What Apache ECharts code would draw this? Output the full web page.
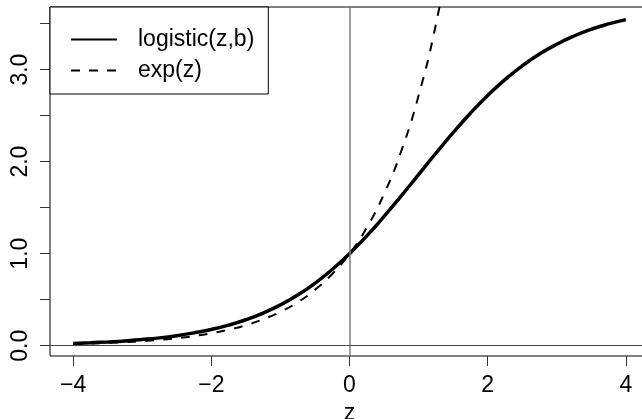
<!DOCTYPE html>
<html>
<head>
<meta charset="utf-8">
<script src="https://cdn.jsdelivr.net/npm/echarts@6/dist/echarts.min.js"></script>
<style>html,body{margin:0;padding:0;background:#fff;}#c{width:642px;height:419px;}</style>
</head>
<body>
<div id="c"></div>
<script>
// z grid
var zValues = [-4, -3.75, -3.5, -3.25, -3, -2.75, -2.5, -2.25, -2, -1.75, -1.5, -1.25, -1, -0.75, -0.5, -0.25,
  0, 0.25, 0.5, 0.75, 1, 1.25, 1.5, 1.75, 2, 2.25, 2.5, 2.75, 3, 3.25, 3.5, 3.75, 4];
// logistic(z,b) curve values
var logisticValues = [0.025, 0.032, 0.041, 0.052, 0.067, 0.085, 0.109, 0.139, 0.176, 0.223, 0.282, 0.355, 0.443,
  0.550, 0.678, 0.828, 1.000, 1.193, 1.404, 1.628, 1.859, 2.091, 2.315, 2.526, 2.719, 2.891, 3.041, 3.169,
  3.276, 3.365, 3.438, 3.496, 3.543];
// exp(z) curve values (leaves the top of the plot after z ~ 1.3)
var expValues = [0.018, 0.024, 0.030, 0.039, 0.050, 0.064, 0.082, 0.105, 0.135, 0.174, 0.223, 0.287, 0.368,
  0.472, 0.607, 0.779, 1.000, 1.284, 1.649, 2.117, 2.718, 3.490, 4.482];
var xTicks = [-4, -2, 0, 2, 4];
var yTicks = [0, 0.5, 1, 1.5, 2, 2.5, 3, 3.5];
var yLabels = [0, 1, 2, 3];
var seriesNames = ['logistic(z,b)', 'exp(z)'];

function pairs(xs, ys) {
  var out = [];
  for (var i = 0; i < ys.length; i++) out.push([xs[i], ys[i]]);
  return out;
}

var FONT = 'Liberation Sans, Arial, Helvetica, sans-serif';
var chart = echarts.init(document.getElementById('c'), null, {renderer: 'canvas'});
chart.setOption({
  animation: false,
  backgroundColor: '#fff',
  grid: {
    left: 50, top: 7, right: -7, bottom: 63,
    outerBoundsMode: 'none',
    containLabel: false,
    show: true, borderColor: '#000', borderWidth: 1, backgroundColor: 'transparent'
  },
  legend: {
    orient: 'vertical',
    left: 50, top: 7,
    data: seriesNames,
    backgroundColor: '#fff',
    borderColor: '#000',
    borderWidth: 1,
    borderRadius: 0,
    padding: [21, 14, 12, 20],
    itemGap: 8,
    itemWidth: 46,
    itemHeight: 14,
    selectedMode: false,
    itemStyle: {color: 'transparent', borderWidth: 0, opacity: 0},
    textStyle: {fontFamily: FONT, fontSize: 23, color: '#000', padding: [0, 0, 0, 16]}
  },
  xAxis: {
    type: 'value',
    min: -4.335, max: 4.335,
    name: 'z',
    nameLocation: 'middle',
    nameGap: 43,
    nameTextStyle: {fontFamily: FONT, fontSize: 23, color: '#000'},
    axisLine: {show: false, onZero: false},
    splitLine: {show: false},
    axisTick: {show: true, inside: false, length: 10, customValues: xTicks, lineStyle: {color: '#333', width: 1}},
    axisLabel: {
      customValues: xTicks,
      margin: 18,
      fontFamily: FONT, fontSize: 23, color: '#000',
      formatter: function (v) { return v < 0 ? '\u2212' + Math.abs(v) : String(v); }
    }
  },
  yAxis: {
    type: 'value',
    min: -0.112, max: 3.68,
    axisLine: {show: false, onZero: false},
    splitLine: {show: false},
    axisTick: {show: true, inside: false, length: 10, customValues: yTicks, lineStyle: {color: '#333', width: 1}},
    axisLabel: {
      customValues: yLabels,
      rotate: 90,
      margin: 18,
      fontFamily: FONT, fontSize: 23, color: '#000',
      formatter: function (v) { return Number(v).toFixed(1); }
    }
  },
  series: [
    {
      name: seriesNames[0],
      type: 'line',
      data: pairs(zValues, logisticValues),
      smooth: true,
      showSymbol: false,
      symbol: 'none',
      clip: true,
      color: '#000',
      lineStyle: {color: '#000', width: 3.5, type: 'solid'},
      z: 3,
      markLine: {
        silent: true,
        symbol: ['none', 'none'],
        label: {show: false},
        animation: false,
        data: [
          {xAxis: 0, lineStyle: {color: '#808080', width: 1.5, type: 'solid'}},
          {yAxis: 0, lineStyle: {color: '#444', width: 1, type: 'solid'}}
        ]
      }
    },
    {
      name: seriesNames[1],
      type: 'line',
      data: pairs(zValues, expValues),
      smooth: true,
      showSymbol: false,
      symbol: 'none',
      clip: true,
      color: '#000',
      lineStyle: {color: '#000', width: 2, type: [9, 9]},
      z: 3
    }
  ]
});
</script>
</body>
</html>
